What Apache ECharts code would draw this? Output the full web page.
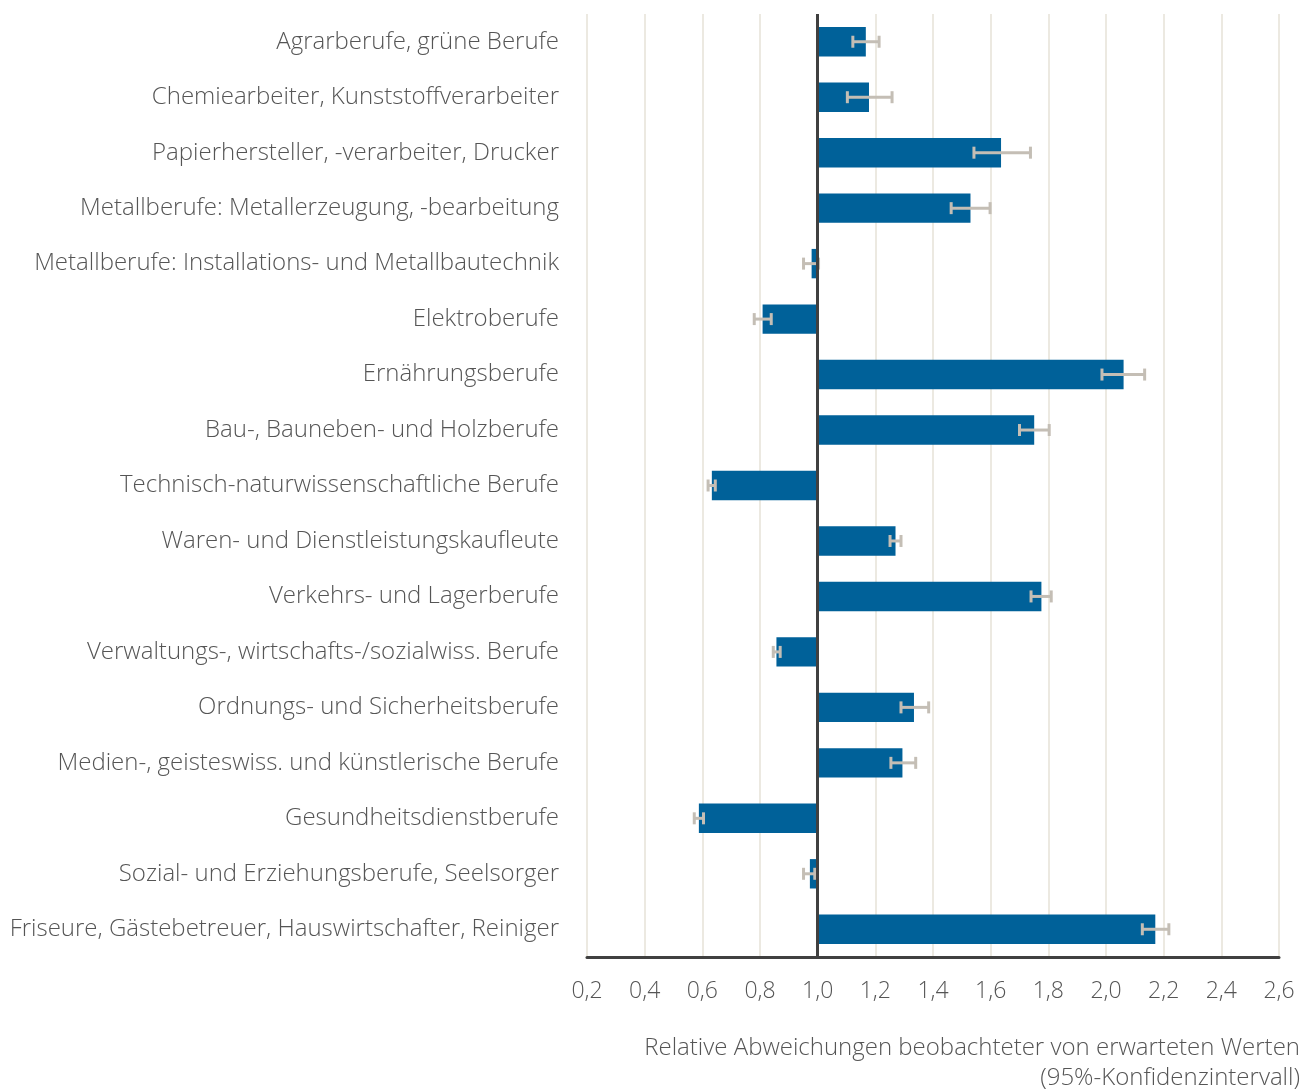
<!DOCTYPE html>
<html>
<head>
<meta charset="utf-8">
<script src="https://cdn.jsdelivr.net/npm/echarts@6/dist/echarts.min.js"></script>
<style>
  html, body { margin: 0; padding: 0; background: #fff; }
  #chart { width: 1301px; height: 1090px; }
</style>
</head>
<body>
<div id="chart"></div>
<script>
// Berufsgruppen (von oben nach unten)
const categories = [
  'Agrarberufe, grüne Berufe',
  'Chemiearbeiter, Kunststoffverarbeiter',
  'Papierhersteller, -verarbeiter, Drucker',
  'Metallberufe: Metallerzeugung, -bearbeitung',
  'Metallberufe: Installations- und Metallbautechnik',
  'Elektroberufe',
  'Ernährungsberufe',
  'Bau-, Bauneben- und Holzberufe',
  'Technisch-naturwissenschaftliche Berufe',
  'Waren- und Dienstleistungskaufleute',
  'Verkehrs- und Lagerberufe',
  'Verwaltungs-, wirtschafts-/sozialwiss. Berufe',
  'Ordnungs- und Sicherheitsberufe',
  'Medien-, geisteswiss. und künstlerische Berufe',
  'Gesundheitsdienstberufe',
  'Sozial- und Erziehungsberufe, Seelsorger',
  'Friseure, Gästebetreuer, Hauswirtschafter, Reiniger'
];

// relative Abweichung (beobachtet / erwartet)
const values = [1.167, 1.178, 1.636, 1.530, 0.979, 0.809, 2.061, 1.751, 0.633,
  1.270, 1.776, 0.857, 1.334, 1.294, 0.588, 0.973, 2.171];

// 95%-Konfidenzintervall
const ciLow = [1.122, 1.103, 1.542, 1.463, 0.951, 0.780, 1.986, 1.700, 0.620,
  1.251, 1.740, 0.846, 1.289, 1.254, 0.572, 0.951, 2.126];
const ciHigh = [1.213, 1.258, 1.738, 1.598, 1.003, 0.839, 2.134, 1.803, 0.645,
  1.289, 1.810, 0.870, 1.385, 1.340, 0.604, 0.990, 2.218];

// Achsenbeschriftung
const xTicks = { min: 0.2, max: 2.6, step: 0.2 };
const baseline = 1.0;
const axisTitle = ['Relative Abweichungen beobachteter von erwarteten Werten', '(95%-Konfidenzintervall)'];

const font = '"Open Sans", "Noto Sans", sans-serif';
const textColor = '#555555';

const chart = echarts.init(document.getElementById('chart'), null, { renderer: 'canvas' });

const barData = values.map((v, i) => [i, v]);
const errData = values.map((v, i) => [i, ciLow[i], ciHigh[i]]);

const option = {
  animation: false,
  grid: { left: 587, right: 22, top: 14, bottom: 133 },
  xAxis: {
    type: 'value',
    min: xTicks.min,
    max: xTicks.max,
    interval: xTicks.step,
    axisLine: { show: true, lineStyle: { color: '#404040', width: 3 } },
    axisTick: { show: false },
    axisLabel: {
      margin: 23,
      fontFamily: font,
      fontWeight: 300,
      fontSize: 23,
      color: textColor,
      formatter: v => v.toFixed(1).replace('.', ',')
    },
    splitLine: { show: true, lineStyle: { color: '#ECE9E1', width: 2 } }
  },
  yAxis: {
    type: 'category',
    inverse: true,
    data: categories,
    axisLine: { show: false },
    axisTick: { show: false },
    axisLabel: {
      margin: 28,
      fontFamily: font,
      fontWeight: 300,
      fontSize: 24,
      color: textColor
    }
  },
  series: [
    {
      // Balken ab Basislinie 1,0
      type: 'custom',
      data: barData,
      encode: { x: 1, y: 0 },
      renderItem: function (params, api) {
        const idx = api.value(0);
        const p0 = api.coord([baseline, idx]);
        const p1 = api.coord([api.value(1), idx]);
        const h = api.size([0, 1])[1] * 0.53;
        const x = Math.min(p0[0], p1[0]);
        const w = Math.abs(p1[0] - p0[0]);
        return {
          type: 'rect',
          shape: { x: x, y: p0[1] - h / 2, width: w, height: h },
          style: { fill: '#006199' }
        };
      },
      markLine: {
        silent: true,
        symbol: 'none',
        label: { show: false },
        lineStyle: { color: '#404040', width: 3, type: 'solid' },
        data: [{ xAxis: baseline }]
      },
      z: 2
    },
    {
      // Fehlerbalken
      type: 'custom',
      data: errData,
      encode: { x: [1, 2], y: 0 },
      renderItem: function (params, api) {
        const idx = api.value(0);
        const lo = api.coord([api.value(1), idx]);
        const hi = api.coord([api.value(2), idx]);
        const cap = 6;
        const style = { stroke: '#C4BEB5', lineWidth: 3 };
        return {
          type: 'group',
          children: [
            { type: 'line', shape: { x1: lo[0], y1: lo[1], x2: hi[0], y2: hi[1] }, style: style },
            { type: 'line', shape: { x1: lo[0], y1: lo[1] - cap, x2: lo[0], y2: lo[1] + cap }, style: style },
            { type: 'line', shape: { x1: hi[0], y1: hi[1] - cap, x2: hi[0], y2: hi[1] + cap }, style: style }
          ]
        };
      },
      z: 3
    }
  ],
  graphic: axisTitle.map((t, i) => ({
    type: 'text',
    right: 1,
    top: 1036 + i * 30,
    style: {
      text: t,
      fontFamily: font,
      fontWeight: 300,
      fontSize: 24,
      fill: textColor
    }
  }))
};

chart.setOption(option);
</script>
</body>
</html>
